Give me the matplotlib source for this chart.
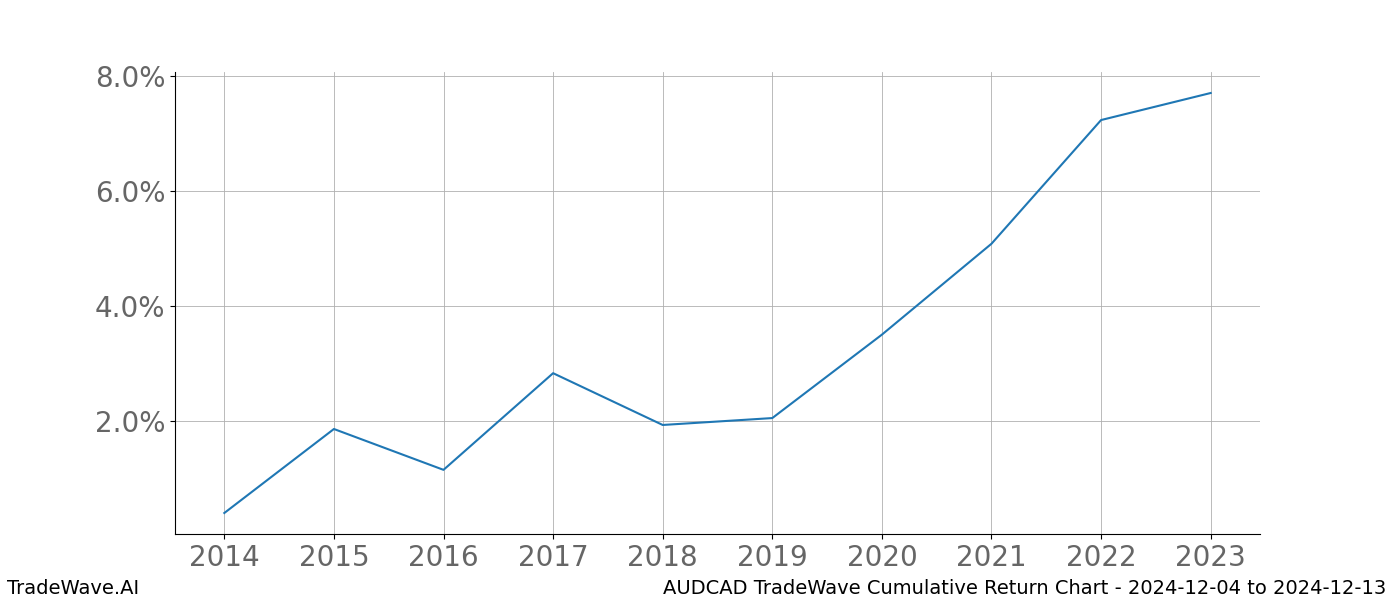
import matplotlib
matplotlib.use("Agg")
import matplotlib.pyplot as plt
from matplotlib.ticker import FuncFormatter

years = [2014, 2015, 2016, 2017, 2018, 2019, 2020, 2021, 2022, 2023]
returns_pct = [0.40, 1.86, 1.15, 2.83, 1.93, 2.05, 3.50, 5.08, 7.23, 7.70]

fig, ax = plt.subplots(figsize=(14, 6), dpi=100)
ax.plot(years, returns_pct, color="#1f77b4", linewidth=1.5)

ax.set_xticks(years)
ax.yaxis.set_major_formatter(FuncFormatter(lambda v, _: f"{v:.1f}%"))
ax.tick_params(axis="both", labelsize=20, labelcolor="#666666")
ax.grid(True, color="#b0b0b0", linewidth=0.6)
ax.spines["top"].set_visible(False)
ax.spines["right"].set_visible(False)

fig.text(0.005, 0.003, "TradeWave.AI", fontsize=14, ha="left", va="bottom")
fig.text(0.99, 0.003, "AUDCAD TradeWave Cumulative Return Chart - 2024-12-04 to 2024-12-13",
         fontsize=14, ha="right", va="bottom")

fig.savefig("out.png")
